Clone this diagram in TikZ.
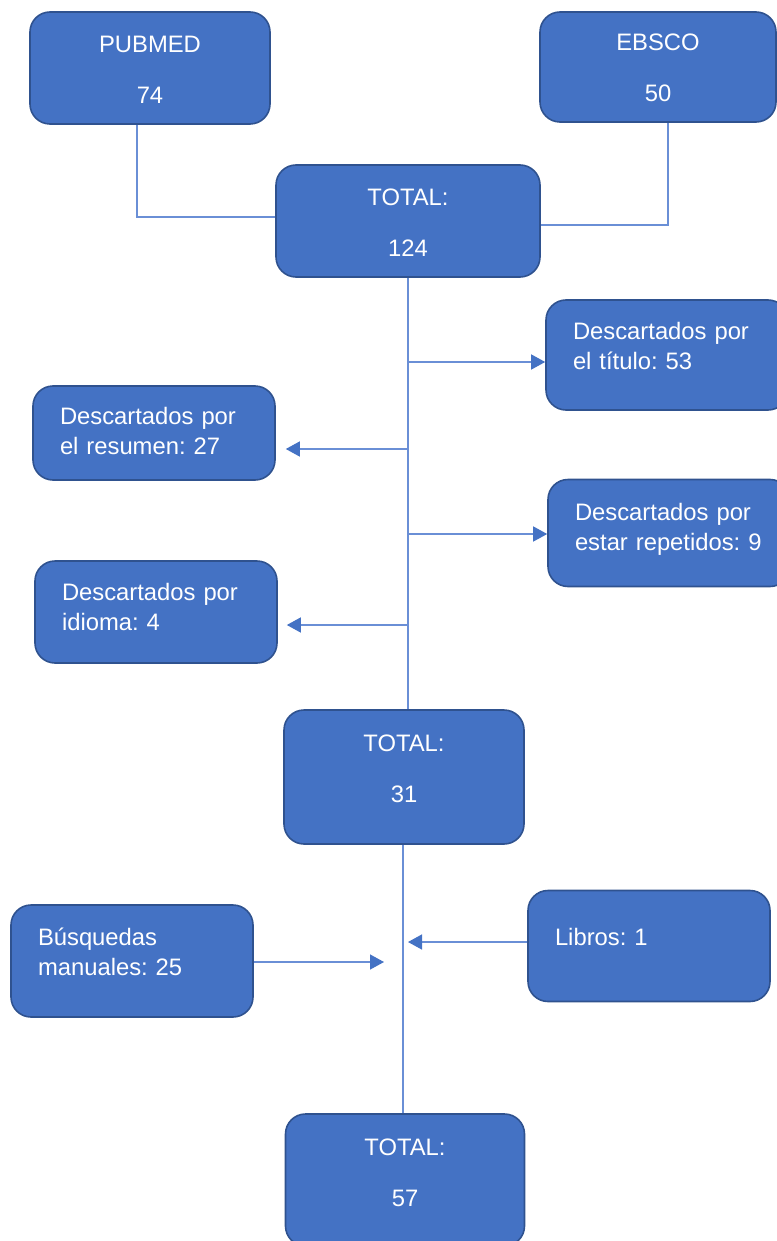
\documentclass[tikz,border=0pt]{standalone}
\usepackage{fontspec}
\setmainfont{Liberation Sans}
\frenchspacing
\usetikzlibrary{arrows.meta}
\definecolor{boxblue}{HTML}{4472C4}
\definecolor{boxline}{HTML}{2F528F}
\definecolor{linkblue}{HTML}{6A8FD6}
\tikzstyle{block} = [rectangle, draw=boxline, line width=1.6pt, fill=boxblue, rounded corners=20pt, text=white, font=\fontsize{23.8}{30}\selectfont, text height=17pt]
\tikzstyle{total} = [block, align=center, text width=150pt]
\tikzstyle{note} = [block, align=left, text width=188pt, inner xsep=27pt]
\tikzstyle{line} = [draw=linkblue, line width=1.4pt]
\tikzstyle{arrowline} = [line, -{Triangle[length=14pt, width=15pt, color=boxblue]}]

\begin{document}
\begin{tikzpicture}[x=1pt, y=-1pt]
    \useasboundingbox (0,0) rectangle (776,1241);

    \node[total, minimum width=240pt, minimum height=112pt, text depth=48pt] (pubmed) at (150,68) {PUBMED\\[21pt]74};
    \node[total, minimum width=236pt, minimum height=110pt, text depth=50pt] (ebsco) at (658,67) {EBSCO\\[21pt]50};
    \node[total, minimum width=264pt, minimum height=112pt, text depth=48pt] (total1) at (408,221) {TOTAL:\\[21pt]124};

    \node[note, minimum height=110pt, text depth=48pt] (titulo) at (667,355) {Descartados por\\el título:~53};
    \node[note, minimum height=94pt, text depth=34pt] (resumen) at (154,433) {Descartados por\\el resumen:~27};
    \node[note, minimum height=107pt, text depth=42pt] (repetidos) at (669,533) {Descartados por\\estar~repetidos:~9};
    \node[note, minimum height=102pt, text depth=40pt] (idioma) at (156,612) {Descartados por\\idioma:~4};

    \node[total, minimum width=240pt, minimum height=134pt, text depth=68pt] (total2) at (404,777) {TOTAL:\\[21pt]31};

    \node[note, minimum height=112pt, text depth=48pt] (busquedas) at (132,961) {Búsquedas\\manuales:~25};
    \node[note, minimum height=111pt, text depth=18pt] (libros) at (649,946) {Libros:~1};

    \node[total, minimum width=239pt, minimum height=132pt, text depth=66pt] (total3) at (405,1180) {TOTAL:\\[21pt]57};

    \coordinate (b1) at (408,362);
    \coordinate (b2) at (408,449);
    \coordinate (b3) at (408,534);
    \coordinate (b4) at (408,625);
    \coordinate (inlib) at (408,942);
    \coordinate (inbus) at (384,962);

    \path[line] ([xshift=-13pt]pubmed.south) |- ([yshift=4pt]total1.west);
    \path[line] ([xshift=10pt]ebsco.south) |- ([yshift=-4pt]total1.east);
    \path[line] (total1.south) -- (total1.south |- total2.north);

    \path[arrowline] (b1) -- (b1 -| titulo.west);
    \path[arrowline] (b2) -- ([xshift=10pt]b2 -| resumen.east);
    \path[arrowline] (b3) -- (b3 -| repetidos.west);
    \path[arrowline] (b4) -- ([xshift=9pt]b4 -| idioma.east);

    \path[line] ([xshift=-1pt]total2.south) -- ([xshift=-1pt]total2.south |- total3.north);
    \path[arrowline] (libros.west |- inlib) -- (inlib);
    \path[arrowline] (busquedas.east |- inbus) -- (inbus);
\end{tikzpicture}
\end{document}
